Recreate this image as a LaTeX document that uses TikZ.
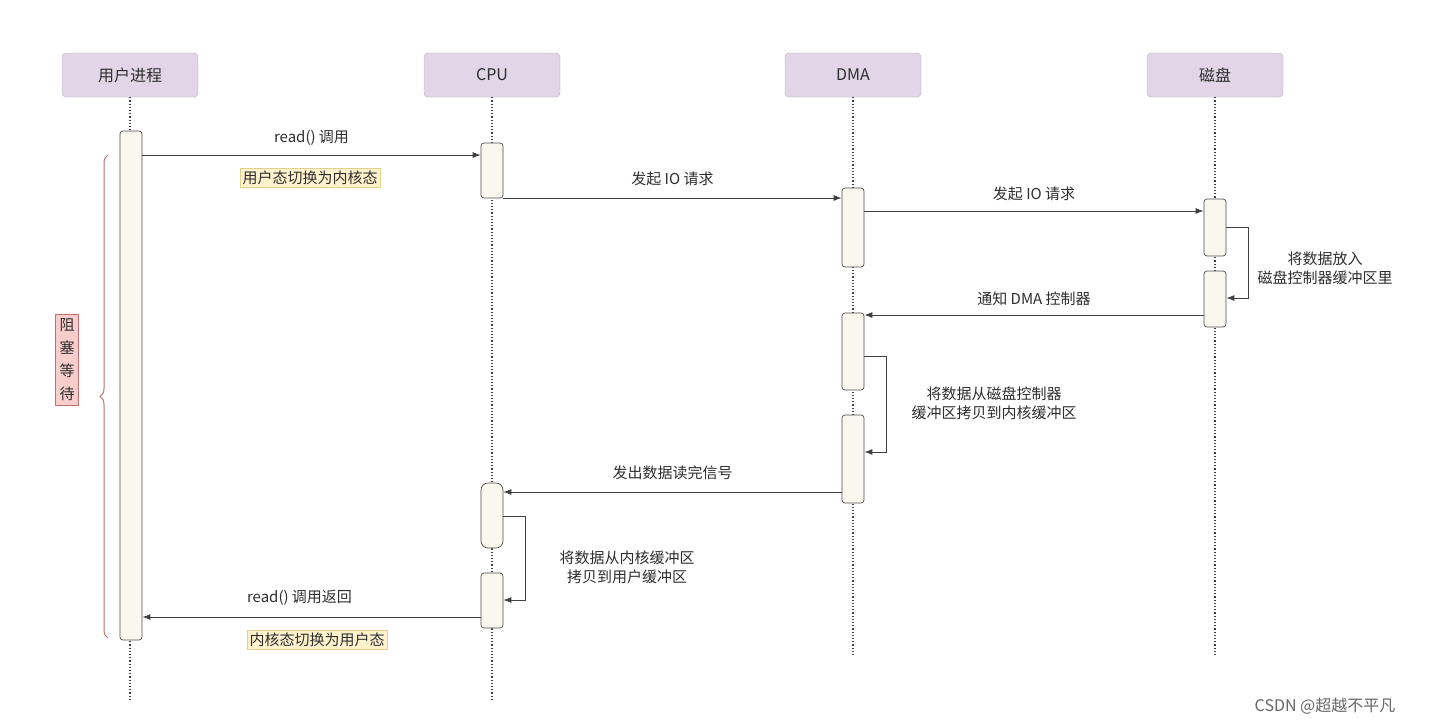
\documentclass[tikz,border=0pt]{standalone}
\usepackage{fontspec}
\setmainfont{Noto Sans CJK SC}
\usetikzlibrary{decorations.pathreplacing,arrows.meta}
\definecolor{headfill}{HTML}{E1D5E7}
\definecolor{actfill}{HTML}{FAF8EE}
\definecolor{notefill}{HTML}{FFF2CC}
\definecolor{notedraw}{HTML}{E3D08F}
\definecolor{blockfill}{HTML}{F8CECC}
\definecolor{blockdraw}{HTML}{C0706E}
\definecolor{txt}{HTML}{2E2E2E}
\begin{document}
\begin{tikzpicture}[x=1pt,y=-1pt,
  every node/.style={text=txt,font=\fontsize{15}{19}\selectfont},
  head/.style={draw=gray!60,fill=headfill,rounded corners=4pt,minimum width=136pt,minimum height=44pt,font=\fontsize{16}{19}\selectfont},
  act/.style={draw=gray!60!black,line width=0.7pt,fill=actfill,rounded corners=3pt,minimum width=22pt,inner sep=0pt},
  life/.style={gray!50!black,line width=1.2pt,dotted},
  msg/.style={draw=gray!50!black,line width=0.9pt,-{Latex[length=8pt,width=6pt]}},
  note/.style={draw=notedraw,fill=notefill,inner sep=2.5pt},
  lbl/.style={align=center,inner sep=1pt}
  ]
  \useasboundingbox[fill=white] (0,0) rectangle (1432,726);

  \node[head] (user) at (130,75) {用户进程};
  \node[head] (cpu) at (492,75) {CPU};
  \node[head] (dma) at (853,75) {DMA};
  \node[head] (disk) at (1215,75) {磁盘};

  \coordinate (userend) at (130,700);
  \coordinate (cpuend) at (492,700);
  \coordinate (dmaend) at (853,655);
  \coordinate (diskend) at (1215,655);
  \draw[life] (user.south) -- (userend);
  \draw[life] (cpu.south) -- (cpuend);
  \draw[life] (dma.south) -- (dmaend);
  \draw[life] (disk.south) -- (diskend);

  \node[act,minimum height=509pt] (uact) at (131,385.5) {};
  \node[act,minimum height=55pt] (cpu1) at (492,170.5) {};
  \node[act,minimum height=65pt,rounded corners=7pt] (cpu2) at (492,515.5) {};
  \node[act,minimum height=55pt] (cpu3) at (492,600.5) {};
  \node[act,minimum height=79pt] (dma1) at (853,227.5) {};
  \node[act,minimum height=77pt] (dma2) at (853,351.5) {};
  \node[act,minimum height=88pt] (dma3) at (853,459) {};
  \node[act,minimum height=57pt] (disk1) at (1215,227.5) {};
  \node[act,minimum height=56pt] (disk2) at (1215,299) {};

  \coordinate (m1) at (0,155);
  \coordinate (m2) at (0,198);
  \coordinate (m3) at (0,211);
  \coordinate (m4) at (0,315);
  \coordinate (m5) at (0,492);
  \coordinate (m6) at (0,617);

  \draw[msg] (uact.east |- m1) -- node[above=6pt] (l1) {read() 调用} (cpu1.west |- m1);
  \node[note] (n1) at (310,178) {用户态切换为内核态};
  \draw[msg] (cpu1.east |- m2) -- node[above=8pt] (l2) {发起 IO 请求} (dma1.west |- m2);
  \draw[msg] (dma1.east |- m3) -- node[above=6pt] (l3) {发起 IO 请求} (disk1.west |- m3);

  \coordinate (s1a) at (1248,227);
  \coordinate (s1b) at (1248,298);
  \draw[msg] (disk1.east |- s1a) -- (s1a) -- (s1b) -- (disk2.east |- s1b);
  \node[lbl] (l4) at (1325,268) {将数据放入\\磁盘控制器缓冲区里};

  \draw[msg] (disk2.west |- m4) -- node[above=6pt] (l5) {通知 DMA 控制器} (dma2.east |- m4);

  \coordinate (s2a) at (886,356);
  \coordinate (s2b) at (886,452);
  \draw[msg] (dma2.east |- s2a) -- (s2a) -- (s2b) -- (dma3.east |- s2b);
  \node[lbl] (l6) at (994,403) {将数据从磁盘控制器\\缓冲区拷贝到内核缓冲区};

  \draw[msg] (dma3.west |- m5) -- node[above=8pt] (l7) {发出数据读完信号} (cpu2.east |- m5);

  \coordinate (s3a) at (525,516);
  \coordinate (s3b) at (525,600);
  \draw[msg] (cpu2.east |- s3a) -- (s3a) -- (s3b) -- (cpu3.east |- s3b);
  \node[lbl] (l8) at (627,567) {将数据从内核缓冲区\\拷贝到用户缓冲区};

  \draw[msg] (cpu3.west |- m6) -- node[above=8pt,xshift=-12pt] (l9) {read() 调用返回} (uact.east |- m6);
  \node[note] (n2) at (317,640) {内核态切换为用户态};

  \coordinate (btop) at (108,155);
  \coordinate (bbot) at (108,638);
  \draw[blockdraw,line width=1pt,decorate,decoration={brace,amplitude=8pt,aspect=0.5}] (bbot) -- (btop);
  \node[draw=blockdraw,line width=0.8pt,fill=blockfill,lbl,inner sep=4pt,font=\fontsize{15}{23}\selectfont] (wait) at (67,360) {阻\\塞\\等\\待};

  \node[text=gray!80!black,font=\fontsize{16}{19}\selectfont] (csdn) at (1325,706) {CSDN @超越不平凡};
\end{tikzpicture}
\end{document}
